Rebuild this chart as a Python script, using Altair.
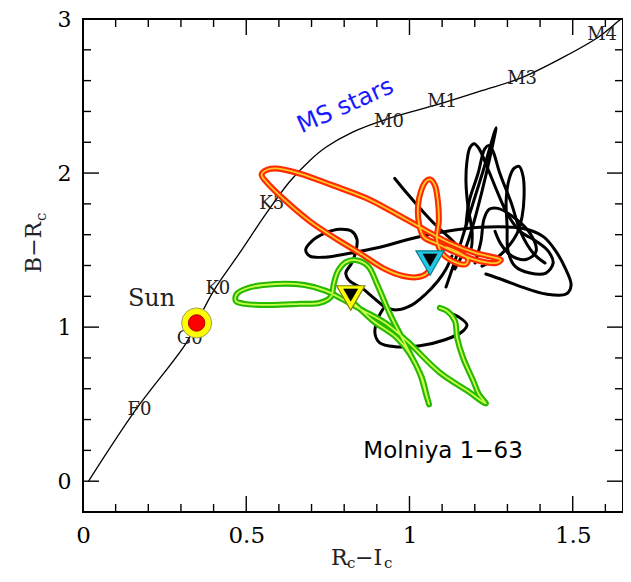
import altair as alt
import pandas as pd

# ---------------- data ----------------
# main-sequence locus
ms_x = [0.017, 0.159, 0.315, 0.348, 0.401, 0.482, 0.557, 0.632, 0.695, 0.745, 0.826, 0.933, 1.095, 1.224, 1.342, 1.471, 1.578, 1.648, 1.70]
ms_y = [0.000, 0.456, 0.893, 1.027, 1.239, 1.488, 1.725, 1.942, 2.082, 2.169, 2.266, 2.352, 2.450, 2.536, 2.618, 2.752, 2.882, 3.000, 3.08]

sp_labels = ["F0", "G0", "K0", "K5", "M0", "M1", "M3", "M4"]
sp_x = [0.173, 0.327, 0.413, 0.578, 0.937, 1.100, 1.345, 1.590]
sp_y = [0.459, 0.924, 1.248, 1.797, 2.334, 2.463, 2.611, 2.896]

# green track
g_x = [0.820, 0.842, 0.888, 0.961, 1.001, 1.032, 1.050, 1.060, 1.054, 1.038, 1.008, 0.977, 0.940, 0.903,
       0.873, 0.836, 0.805, 0.781, 0.768, 0.759, 0.725, 0.664, 0.572, 0.495, 0.468, 0.471, 0.505, 0.590,
       0.679, 0.744, 0.793, 0.848, 0.925, 0.992, 1.093, 1.176, 1.234, 1.213, 1.195, 1.164, 1.146, 1.139,
       1.115, 1.093]
g_y = [1.170, 1.131, 1.041, 0.931, 0.827, 0.698, 0.569, 0.498, 0.543, 0.672, 0.802, 0.931, 1.086, 1.267,
       1.396, 1.435, 1.422, 1.364, 1.280, 1.196, 1.157, 1.151, 1.144, 1.151, 1.170, 1.215, 1.254, 1.280,
       1.273, 1.235, 1.183, 1.118, 1.028, 0.911, 0.705, 0.588, 0.504, 0.562, 0.653, 0.802, 0.931, 1.041,
       1.105, 1.125]

# red track
r_x = [1.066, 1.054, 1.026, 0.980, 0.919, 0.848, 0.777, 0.695, 0.612, 0.563, 0.547, 0.566, 0.593, 0.664,
       0.765, 0.869, 0.940, 1.044, 1.118, 1.204, 1.268, 1.280, 1.265, 1.204, 1.139, 1.081, 1.044, 1.029,
       1.026, 1.035, 1.050, 1.063, 1.078, 1.087, 1.090, 1.084, 1.100, 1.139, 1.173, 1.179, 1.155, 1.112]
r_y = [1.409, 1.351, 1.325, 1.332, 1.383, 1.480, 1.571, 1.687, 1.836, 1.939, 1.991, 2.023, 2.030, 1.997,
       1.920, 1.836, 1.758, 1.635, 1.551, 1.480, 1.448, 1.435, 1.416, 1.435, 1.487, 1.545, 1.584, 1.674,
       1.784, 1.881, 1.946, 1.959, 1.920, 1.816, 1.687, 1.571, 1.480, 1.422, 1.409, 1.441, 1.480, 1.519]

# black track (several strokes)
k1_x = [0.955, 0.995, 1.038, 1.081, 1.124, 1.161, 1.185, 1.192, 1.179, 1.173, 1.176, 1.185, 1.198, 1.213,
        1.241, 1.271, 1.302, 1.339, 1.388, 1.425, 1.440, 1.418, 1.369, 1.323, 1.302, 1.299, 1.296, 1.305,
        1.320, 1.336, 1.348, 1.351, 1.345, 1.330, 1.299, 1.262, 1.222]
k1_y = [1.965, 1.862, 1.758, 1.661, 1.577, 1.506, 1.493, 1.610, 1.784, 1.946, 2.075, 2.165, 2.191, 2.159,
        2.023, 1.868, 1.726, 1.622, 1.558, 1.493, 1.416, 1.351, 1.351, 1.396, 1.493, 1.655, 1.816, 1.959,
        2.030, 2.043, 1.978, 1.849, 1.719, 1.610, 1.513, 1.441, 1.396]
k2_x = [1.112, 1.149, 1.185, 1.225, 1.265, 1.247, 1.222, 1.198, 1.173, 1.139]
k2_y = [1.260, 1.493, 1.739, 2.010, 2.295, 2.107, 1.881, 1.687, 1.519, 1.377]
k3_x = [1.173, 1.182, 1.210, 1.231, 1.244, 1.256, 1.277, 1.311, 1.342, 1.379, 1.415]
k3_y = [1.655, 1.810, 1.997, 2.159, 2.178, 2.140, 1.997, 1.810, 1.610, 1.480, 1.416]
k4_x = [1.130, 1.112, 1.087, 1.050, 1.008, 0.961, 0.925, 0.894, 0.854, 0.817, 0.805, 0.823, 0.836, 0.839,
        0.823, 0.787, 0.741, 0.701, 0.682, 0.695, 0.741, 0.817, 0.909, 1.011, 1.115, 1.216, 1.317, 1.369,
        1.412, 1.446, 1.477, 1.495, 1.480, 1.418, 1.345, 1.287, 1.234]
k4_y = [1.461, 1.377, 1.299, 1.215, 1.144, 1.112, 1.131, 1.183, 1.254, 1.299, 1.351, 1.416, 1.493, 1.571,
        1.622, 1.635, 1.610, 1.558, 1.500, 1.461, 1.454, 1.480, 1.519, 1.577, 1.622, 1.648, 1.648, 1.629,
        1.584, 1.500, 1.383, 1.273, 1.215, 1.215, 1.260, 1.306, 1.345]
k5_x = [0.919, 0.903, 0.894, 0.909, 0.955, 1.032, 1.109, 1.161, 1.176, 1.155, 1.124, 1.093]
k5_y = [1.118, 1.054, 0.963, 0.898, 0.873, 0.879, 0.918, 0.970, 1.015, 1.060, 1.092, 1.118]
k6_x = [1.201, 1.219, 1.228, 1.244, 1.271, 1.323, 1.369, 1.388, 1.360, 1.314, 1.280, 1.262]
k6_y = [1.416, 1.558, 1.700, 1.765, 1.771, 1.707, 1.610, 1.493, 1.441, 1.461, 1.539, 1.622]

sun_x, sun_y = [0.348], [1.027]
cyan_x, cyan_y = [1.063], [1.416]
yel_x, yel_y = [0.820], [1.189]

x_major = [0.5, 1.0, 1.5]
x_minor = [0.1, 0.2, 0.3, 0.4, 0.6, 0.7, 0.8, 0.9, 1.1, 1.2, 1.3, 1.4, 1.6]
y_major = [0, 1, 2]
y_minor = [0.2, 0.4, 0.6, 0.8, 1.2, 1.4, 1.6, 1.8, 2.2, 2.4, 2.6, 2.8]
x_labels = [0, 0.5, 1, 1.5]
y_labels = [0, 1, 2, 3]

# ---------------- chart ----------------
W, H = 540, 493
SERIF = "DejaVu Serif"

xs = alt.Scale(domain=[0, 1.654], nice=False, zero=False)
ys = alt.Scale(domain=[-0.2, 3.0], nice=False, zero=False)
xaxis = alt.Axis(values=x_labels, format="~g", ticks=False, domain=False, grid=False, title=None,
                 labelFont=SERIF, labelFontSize=23, labelPadding=12, labelFlush=False,
                 labelColor="black", labelOverlap=False)
yaxis = alt.Axis(values=y_labels, format="~g", ticks=False, domain=False, grid=False, title=None,
                 labelFont=SERIF, labelFontSize=22, labelPadding=12, labelFlush=False,
                 labelColor="black", labelOverlap=False)


def X(f="x"):
    return alt.X(f"{f}:Q", scale=xs, axis=xaxis)


def Y(f="y"):
    return alt.Y(f"{f}:Q", scale=ys, axis=yaxis)


def path_df(px, py, seg="a"):
    return pd.DataFrame({"x": px, "y": py, "i": list(range(len(px))), "seg": seg})


layers = []

# inward ticks on all four sides
for vals, L in ((x_minor, 8), (x_major, 16)):
    d = pd.DataFrame({"v": vals})
    layers.append(alt.Chart(d).mark_rule(color="black", strokeWidth=1.4).encode(
        x=X("v"), y=alt.value(H), y2=alt.value(H - L)))
    layers.append(alt.Chart(d).mark_rule(color="black", strokeWidth=1.4).encode(
        x=X("v"), y=alt.value(0), y2=alt.value(L)))
for vals, L in ((y_minor, 8), (y_major, 16)):
    d = pd.DataFrame({"v": vals})
    layers.append(alt.Chart(d).mark_rule(color="black", strokeWidth=1.4).encode(
        y=Y("v"), x=alt.value(0), x2=alt.value(L)))
    layers.append(alt.Chart(d).mark_rule(color="black", strokeWidth=1.4).encode(
        y=Y("v"), x=alt.value(W), x2=alt.value(W - L)))

# main-sequence curve
layers.append(alt.Chart(path_df(ms_x, ms_y)).mark_line(
    color="black", strokeWidth=1.3, interpolate="catmull-rom", clip=True).encode(
    x=X(), y=Y(), order="i:Q"))

# spectral type labels
sp_df = pd.DataFrame({"x": sp_x, "y": sp_y, "t": sp_labels})
layers.append(alt.Chart(sp_df).mark_text(font=SERIF, fontSize=18, color="#222222",
                                         align="center", baseline="middle").encode(
    x=X(), y=Y(), text="t:N"))

# black track
kdf = pd.concat([path_df(k1_x, k1_y, "k1"), path_df(k2_x, k2_y, "k2"), path_df(k3_x, k3_y, "k3"),
                 path_df(k4_x, k4_y, "k4"), path_df(k5_x, k5_y, "k5"), path_df(k6_x, k6_y, "k6")])
layers.append(alt.Chart(kdf).mark_line(color="black", strokeWidth=3, interpolate="catmull-rom",
                                       strokeCap="round", strokeJoin="round").encode(
    x=X(), y=Y(), order="i:Q", detail="seg:N"))

# red track (red with yellow core)
rdf = path_df(r_x, r_y)
layers.append(alt.Chart(rdf).mark_line(color="#ff2a00", strokeWidth=6, interpolate="catmull-rom",
                                       strokeCap="round", strokeJoin="round").encode(
    x=X(), y=Y(), order="i:Q"))
layers.append(alt.Chart(rdf).mark_line(color="#ffc829", strokeWidth=1.8, interpolate="catmull-rom",
                                       strokeCap="round", strokeJoin="round").encode(
    x=X(), y=Y(), order="i:Q"))

# green track (green with light core)
gdf = path_df(g_x, g_y)
layers.append(alt.Chart(gdf).mark_line(color="#27b800", strokeWidth=6, interpolate="catmull-rom",
                                       strokeCap="round", strokeJoin="round").encode(
    x=X(), y=Y(), order="i:Q"))
layers.append(alt.Chart(gdf).mark_line(color="#c8ff4a", strokeWidth=1.8, interpolate="catmull-rom",
                                       strokeCap="round", strokeJoin="round").encode(
    x=X(), y=Y(), order="i:Q"))

# Sun symbol
sun_df = pd.DataFrame({"x": sun_x, "y": sun_y})
layers.append(alt.Chart(sun_df).mark_point(shape="circle", filled=True, size=900, fill="#ffff00",
                                           stroke="#9a9a60", strokeWidth=1, opacity=1).encode(
    x=X(), y=Y()))
layers.append(alt.Chart(sun_df).mark_point(shape="circle", filled=True, size=270, fill="#ff0000",
                                           stroke="#b00000", strokeWidth=1, opacity=1).encode(
    x=X(), y=Y()))

# triangles
for tx, ty, col, edge in ((cyan_x, cyan_y, "#22c8e6", "#0d7d8c"), (yel_x, yel_y, "#ffff00", "#7a7a10")):
    tdf = pd.DataFrame({"x": tx, "y": ty})
    layers.append(alt.Chart(tdf).mark_point(shape="triangle-down", filled=True, size=800, fill=col,
                                            stroke=edge, strokeWidth=1.2, opacity=1).encode(
        x=X(), y=Y()))
    layers.append(alt.Chart(tdf).mark_point(shape="triangle-down", filled=True, size=200, fill="black",
                                            stroke="black", strokeWidth=0.5, opacity=1, yOffset=-3).encode(
        x=X(), y=Y()))

# annotations
ann = [("Sun", 0.210, 1.183, SERIF, 24, "#222222", 0, "normal"),
       ("MS stars", 0.804, 2.434, "DejaVu Sans", 24, "#1a1aff", 336, "normal"),
       ("Molniya 1\u221263", 1.103, 0.197, "DejaVu Sans", 23, "black", 0, "normal")]
for t, ax_, ay_, f, fs, c, ang, fw in ann:
    d = pd.DataFrame({"x": [ax_], "y": [ay_], "t": [t]})
    layers.append(alt.Chart(d).mark_text(font=f, fontSize=fs, color=c, angle=ang, fontWeight=fw,
                                         align="center", baseline="middle").encode(
        x=X(), y=Y(), text="t:N"))

# axis titles with subscripts (positioned in pixels outside the plot frame)
title_parts = [
    ("R", 248, 546, 22, 0), ("c", 264, 549, 15, 0),
    ("\u2212I", 272, 546, 22, 0), ("c", 301, 549, 15, 0),
    ("B\u2212R", -42, 254, 22, 270), ("c", -37, 202, 15, 270),
]
for t, px, py, fs, ang in title_parts:
    d = pd.DataFrame({"t": [t]})
    layers.append(alt.Chart(d).mark_text(font=SERIF, fontSize=fs, color="#222222", angle=ang,
                                         align="left", baseline="alphabetic").encode(
        x=alt.value(px), y=alt.value(py), text="t:N"))

chart = alt.layer(*layers).properties(
    width=W, height=H,
    padding={"left": 75, "top": 11, "right": 0, "bottom": 61},
    autosize=alt.AutoSizeParams(type="none"),
    background="white",
).configure_view(stroke="black", strokeWidth=2)

chart.save("out.html", embed_options={"renderer": "svg", "actions": False})
